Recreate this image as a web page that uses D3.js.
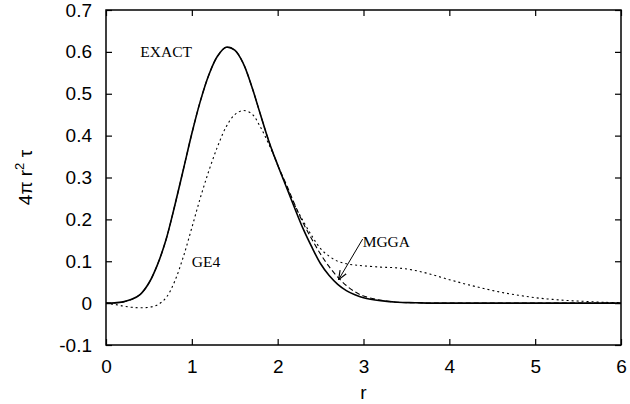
<!doctype html>
<html>
<head>
    <meta charset="UTF-8">
    <title>kinetic energy density</title>
    <script src="https://d3js.org/d3.v7.min.js"></script>
    <style>
        body { margin: 0; background: #fff; }
        text { font-family: "Liberation Sans", Arial, sans-serif; }
        .note { font-family: "Liberation Serif", "Times New Roman", serif; font-size: 15.5px; }
    </style>
</head>
<body>

    <svg id="chart" width="630" height="404"></svg>

    <script>
        // radial grid (bohr)
        var rExact = [0, 0.1, 0.2, 0.3, 0.4, 0.5, 0.6, 0.7, 0.8, 0.9, 1.0, 1.1, 1.2, 1.3, 1.4, 1.5, 1.6, 1.7, 1.8, 1.9, 2.0,
                      2.1, 2.2, 2.3, 2.4, 2.5, 2.6, 2.7, 2.8, 2.9, 3.0, 3.2, 3.4, 3.6, 3.8, 4.0, 5.0, 6.0];
        var exact  = [0, 0.0005, 0.003, 0.009, 0.021, 0.048, 0.092, 0.152, 0.232, 0.318, 0.405, 0.483, 0.546, 0.59, 0.611, 0.604, 0.572, 0.516, 0.45, 0.385, 0.33,
                      0.278, 0.226, 0.176, 0.133, 0.094, 0.066, 0.045, 0.03, 0.02, 0.013, 0.006, 0.002, 0.001, 0, 0, 0, 0];

        var rGE4 = [0, 0.1, 0.2, 0.3, 0.4, 0.5, 0.6, 0.7, 0.8, 0.9, 1.0, 1.1, 1.2, 1.3, 1.4, 1.5, 1.6, 1.7, 1.8, 1.9, 2.0,
                    2.1, 2.2, 2.3, 2.4, 2.5, 2.6, 2.7, 2.8, 2.9, 3.0, 3.2, 3.4, 3.6, 3.8, 4.0, 4.2, 4.4, 4.6, 4.8, 5.0, 5.2, 5.4, 5.6, 5.8, 6.0];
        var ge4  = [0, -0.003, -0.007, -0.010, -0.011, -0.010, -0.004, 0.013, 0.052, 0.11, 0.18, 0.252, 0.317, 0.374, 0.421, 0.45, 0.46, 0.452, 0.42, 0.378, 0.33,
                    0.28, 0.233, 0.195, 0.16, 0.13, 0.112, 0.1, 0.094, 0.091, 0.089, 0.086, 0.084, 0.078, 0.068, 0.056, 0.045, 0.035, 0.026, 0.019, 0.013, 0.009, 0.006, 0.004, 0.002, 0.001];

        var rMGGA = [0, 0.1, 0.2, 0.3, 0.4, 0.5, 0.6, 0.7, 0.8, 0.9, 1.0, 1.1, 1.2, 1.3, 1.4, 1.5, 1.6, 1.7, 1.8, 1.9, 2.0,
                     2.1, 2.2, 2.3, 2.4, 2.5, 2.6, 2.7, 2.8, 2.9, 3.0, 3.2, 3.4, 3.6, 3.8, 4.0, 5.0, 6.0];
        var mgga  = [0, 0.0005, 0.003, 0.009, 0.021, 0.048, 0.092, 0.152, 0.232, 0.318, 0.405, 0.483, 0.546, 0.59, 0.611, 0.604, 0.572, 0.516, 0.45, 0.385, 0.33,
                     0.284, 0.235, 0.19, 0.152, 0.117, 0.087, 0.062, 0.042, 0.027, 0.017, 0.007, 0.002, 0.001, 0, 0, 0, 0];

        var xTicks = [0, 1, 2, 3, 4, 5, 6];
        var yTicks = [-0.1, 0, 0.1, 0.2, 0.3, 0.4, 0.5, 0.6, 0.7];
        var yTickLabels = ["-0.1", "0", "0.1", "0.2", "0.3", "0.4", "0.5", "0.6", "0.7"];

        // text labels placed in data units
        var notes = [
            { label: "EXACT", r: 0.40, v: 0.587 },
            { label: "GE4",   r: 1.00, v: 0.086 },
            { label: "MGGA",  r: 2.99, v: 0.135 }
        ];
        var arrowFrom = [2.99, 0.153];
        var arrowTo   = [2.71, 0.056];

        var w = 630;
        var h = 404;
        var margin = { left: 106, right: 9, top: 10, bottom: 59 };

        var svg = d3.select("#chart");

        var x = d3.scaleLinear().domain([0, 6]).range([margin.left, w - margin.right]);
        var y = d3.scaleLinear().domain([-0.1, 0.7]).range([h - margin.bottom, margin.top]);

        // ticks on all four sides, pointing inwards
        var tick = 6;
        svg.append("g")
            .attr("transform", "translate(0," + (h - margin.bottom) + ")")
            .call(d3.axisBottom(x).tickValues(xTicks).tickSizeInner(-tick).tickSizeOuter(0).tickPadding(15).tickFormat(d3.format("d")))
            .call(function (g) { g.select(".domain").remove(); });
        svg.append("g")
            .attr("transform", "translate(0," + margin.top + ")")
            .call(d3.axisTop(x).tickValues(xTicks).tickSizeInner(-tick).tickSizeOuter(0).tickFormat(""))
            .call(function (g) { g.select(".domain").remove(); });
        svg.append("g")
            .attr("transform", "translate(" + margin.left + ",0)")
            .call(d3.axisLeft(y).tickValues(yTicks).tickSizeInner(-tick).tickSizeOuter(0).tickPadding(14)
                .tickFormat(function (d, i) { return yTickLabels[i]; }))
            .call(function (g) { g.select(".domain").remove(); });
        svg.append("g")
            .attr("transform", "translate(" + (w - margin.right) + ",0)")
            .call(d3.axisRight(y).tickValues(yTicks).tickSizeInner(-tick).tickSizeOuter(0).tickFormat(""))
            .call(function (g) { g.select(".domain").remove(); });

        svg.selectAll(".tick line").attr("stroke", "#000").attr("stroke-width", 1.2);
        svg.selectAll(".tick text")
            .attr("fill", "#000")
            .style("font-size", "19px")
            .style("font-family", "'Liberation Sans', Arial, sans-serif");

        // frame
        svg.append("rect")
            .attr("x", margin.left)
            .attr("y", margin.top)
            .attr("width", w - margin.left - margin.right)
            .attr("height", h - margin.top - margin.bottom)
            .attr("fill", "none")
            .attr("stroke", "#000")
            .attr("stroke-width", 1.5);

        // curves
        var line = d3.line()
            .x(function (d) { return x(d[0]); })
            .y(function (d) { return y(d[1]); })
            .curve(d3.curveCatmullRom.alpha(0.5));

        function pairs(rs, vs) {
            return rs.map(function (r, i) { return [r, vs[i]]; });
        }

        svg.append("path")
            .attr("d", line(pairs(rGE4, ge4)))
            .attr("fill", "none")
            .attr("stroke", "#000")
            .attr("stroke-width", 1.1)
            .attr("stroke-dasharray", "2,3");

        svg.append("path")
            .attr("d", line(pairs(rMGGA, mgga)))
            .attr("fill", "none")
            .attr("stroke", "#000")
            .attr("stroke-width", 1.1)
            .attr("stroke-dasharray", "5,3");

        svg.append("path")
            .attr("d", line(pairs(rExact, exact)))
            .attr("fill", "none")
            .attr("stroke", "#000")
            .attr("stroke-width", 1.6);

        // annotations
        svg.selectAll("text.note")
            .data(notes)
            .enter()
            .append("text")
            .attr("class", "note")
            .attr("x", function (d) { return x(d.r); })
            .attr("y", function (d) { return y(d.v); })
            .attr("fill", "#000")
            .text(function (d) { return d.label; });

        svg.append("defs").append("marker")
            .attr("id", "head")
            .attr("viewBox", "0 0 10 10")
            .attr("refX", 10)
            .attr("refY", 5)
            .attr("markerWidth", 9)
            .attr("markerHeight", 9)
            .attr("markerUnits", "userSpaceOnUse")
            .attr("orient", "auto")
            .append("path")
            .attr("d", "M0,1 L10,5 L0,9")
            .attr("fill", "none")
            .attr("stroke", "#000")
            .attr("stroke-width", 1.3);

        svg.append("line")
            .attr("x1", x(arrowFrom[0]))
            .attr("y1", y(arrowFrom[1]))
            .attr("x2", x(arrowTo[0]))
            .attr("y2", y(arrowTo[1]))
            .attr("stroke", "#000")
            .attr("stroke-width", 1)
            .attr("marker-end", "url(#head)");

        // axis titles
        svg.append("text")
            .attr("x", x(3))
            .attr("y", 399)
            .attr("text-anchor", "middle")
            .style("font-size", "19px")
            .text("r");

        var yt = svg.append("text")
            .attr("transform", "translate(32," + y(0.3) + ") rotate(-90)")
            .attr("text-anchor", "middle")
            .style("font-size", "19px");
        yt.append("tspan").text("4\u03c0 r");
        yt.append("tspan").attr("dy", -8).style("font-size", "13px").text("2");
        yt.append("tspan").attr("dy", 8).text(" \u03c4");
    </script>

</body>
</html>
